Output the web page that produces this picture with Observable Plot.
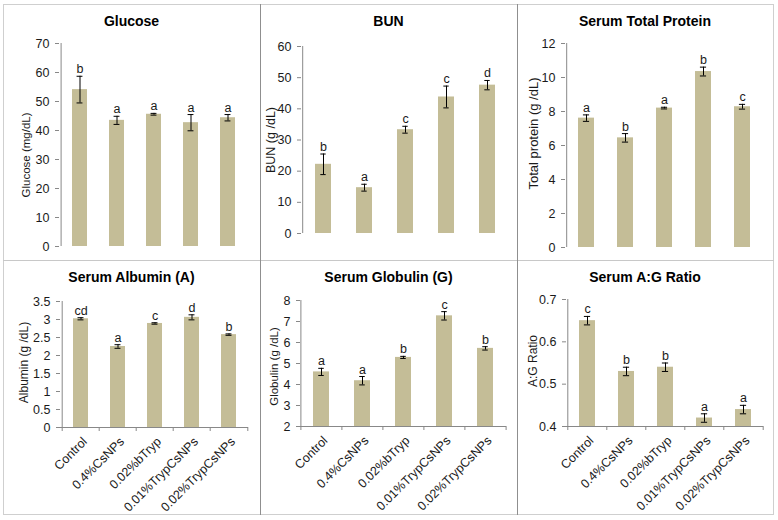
<!DOCTYPE html>
<html><head><meta charset="utf-8">
<script src="https://cdn.jsdelivr.net/npm/d3@7"></script>
<script src="https://cdn.jsdelivr.net/npm/@observablehq/plot@0.6"></script>
<style>
body{margin:0;background:#fff;font-family:"Liberation Sans",Arial,sans-serif;}
#wrap{position:relative;width:778px;height:520px;overflow:hidden;}
.panel{position:absolute;}
.title{position:absolute;left:0;right:0;top:9px;line-height:16px;text-align:center;font-weight:bold;font-size:14px;color:#000;z-index:2;}
</style></head><body>
<div id="wrap"></div>
<script>
const categories = ["Control","0.4%CsNPs","0.02%bTryp","0.01%TrypCsNPs","0.02%TrypCsNPs"];

const glucoseMean = [54.1, 43.5, 45.6, 42.7, 44.4];
const glucoseErr = [4.6, 1.4, 0.3, 2.8, 1.1];
const glucoseLetters = ["b","a","a","a","a"];

const bunMean = [22.2, 14.7, 33.3, 43.8, 47.6];
const bunErr = [3.3, 1.1, 1.1, 3.5, 1.5];
const bunLetters = ["b","a","c","c","d"];

const proteinMean = [7.61, 6.45, 8.2, 10.35, 8.28];
const proteinErr = [0.19, 0.25, 0.05, 0.26, 0.14];
const proteinLetters = ["a","b","a","b","c"];

const albuminMean = [3.02, 2.25, 2.89, 3.06, 2.58];
const albuminErr = [0.03, 0.05, 0.02, 0.07, 0.02];
const albuminLetters = ["cd","a","c","d","b"];

const globulinMean = [4.6, 4.18, 5.29, 7.27, 5.72];
const globulinErr = [0.17, 0.2, 0.05, 0.2, 0.08];
const globulinLetters = ["a","a","b","c","b"];

const ratioMean = [0.65, 0.53, 0.54, 0.42, 0.44];
const ratioErr = [0.01, 0.01, 0.01, 0.01, 0.01];
const ratioLetters = ["c","b","b","a","a"];

const glucoseTicks = [0,10,20,30,40,50,60,70];
const bunTicks = [0,10,20,30,40,50,60];
const proteinTicks = [0,2,4,6,8,10,12];
const albuminTicks = [0,0.5,1,1.5,2,2.5,3,3.5];
const globulinTicks = [2,3,4,5,6,7,8];
const ratioTicks = [0.4,0.5,0.6,0.7];

const panels = [
  {title:"Glucose", ylabel:"Glucose (mg/dL)", mean:glucoseMean, err:glucoseErr, letters:glucoseLetters, ticks:glucoseTicks,
   left:3, top:4, width:257, height:256, ml:56, mr:12, mt:39, mb:14, xaxis:false, ldx:-33, ldy:10, lfs:11.5},
  {title:"BUN", ylabel:"BUN (g /dL)", mean:bunMean, err:bunErr, letters:bunLetters, ticks:bunTicks,
   left:260, top:4, width:257, height:256, ml:41, mr:8, mt:42, mb:27, xaxis:false, ldx:-31, ldy:0, lfs:12.5},
  {title:"Serum Total Protein", ylabel:"Total protein (g /dL)", mean:proteinMean, err:proteinErr, letters:proteinLetters, ticks:proteinTicks,
   left:517, top:4, width:256, height:256, ml:48, mr:10, mt:39, mb:13, xaxis:false, ldx:-32, ldy:-12, lfs:13},
  {title:"Serum Albumin (A)", ylabel:"Albumin (g /dL)", mean:albuminMean, err:albuminErr, letters:albuminLetters, ticks:albuminTicks,
   left:3, top:260, width:257, height:254, ml:57, mr:12, mt:41, mb:87, xaxis:true, ldx:-36, ldy:-2, lfs:12},
  {title:"Serum Globulin (G)", ylabel:"Globulin (g /dL)", mean:globulinMean, err:globulinErr, letters:globulinLetters, ticks:globulinTicks,
   left:260, top:260, width:257, height:254, ml:40, mr:11, mt:40, mb:88, xaxis:true, ldx:-26, ldy:3, lfs:11.5},
  {title:"Serum A:G Ratio", ylabel:"A:G Ratio", mean:ratioMean, err:ratioErr, letters:ratioLetters, ticks:ratioTicks,
   left:517, top:260, width:256, height:254, ml:49, mr:10, mt:39, mb:88, xaxis:true, ldx:-33, ldy:-2, lfs:12}
];

const BAR = "#c4bd97", AXIS = "#888888", TEXT = "#1a1a1a";
const wrap = document.getElementById("wrap");

for (const cfg of panels) {
  const data = categories.map((c, i) => ({c, v: cfg.mean[i], e: cfg.err[i], l: cfg.letters[i]}));
  const y0 = cfg.ticks[0], y1 = cfg.ticks[cfg.ticks.length - 1];
  const plotW = cfg.width - cfg.ml - cfg.mr;
  const plotH = cfg.height - cfg.mt - cfg.mb;
  const step = plotW / categories.length;
  const bw = step * 0.4;
  const capInset = (bw - 6) / 2;
  const marks = [
    Plot.barY(data, {x: "c", y1: () => y0, y2: "v", fill: BAR}),
    Plot.ruleX(data, {x: "c", y1: d => d.v - d.e, y2: d => d.v + d.e, stroke: "#000", strokeWidth: 1}),
    Plot.tickY(data, {x: "c", y: d => d.v + d.e, stroke: "#000", insetLeft: capInset, insetRight: capInset}),
    Plot.tickY(data, {x: "c", y: d => d.v - d.e, stroke: "#000", insetLeft: capInset, insetRight: capInset}),
    Plot.text(data, {x: "c", y: d => d.v + d.e, text: "l", lineAnchor: "bottom", dy: -3, fontSize: 12.5, fill: TEXT}),
    // y axis line
    Plot.ruleX([categories[0]], {x: d => d, dx: -step / 2, stroke: AXIS}),
    // y ticks
    Plot.ruleY(cfg.ticks, {y: d => d, stroke: AXIS, insetLeft: -4, insetRight: plotW}),
    // y label
    Plot.text([cfg.ylabel], {text: d => d, frameAnchor: "left", textAnchor: "middle", lineAnchor: "middle",
      rotate: -90, dx: cfg.ldx, dy: cfg.ldy, fontSize: cfg.lfs, fill: TEXT})
  ];
  if (cfg.xaxis) {
    marks.push(Plot.ruleY([y0], {y: d => d, stroke: AXIS}));
    marks.push(Plot.ruleX(categories, {x: d => d, dx: -step / 2, stroke: AXIS, insetTop: plotH, insetBottom: -4}));
    marks.push(Plot.ruleX([categories[categories.length - 1]], {x: d => d, dx: step / 2, stroke: AXIS, insetTop: plotH, insetBottom: -4}));
    marks.push(Plot.text(categories, {x: d => d, frameAnchor: "bottom", text: d => d, rotate: -45,
      textAnchor: "end", lineAnchor: "middle", dx: 4, dy: 12, fontSize: 12.5, fill: TEXT}));
  }
  const chart = Plot.plot({
    width: cfg.width, height: cfg.height,
    marginLeft: cfg.ml, marginRight: cfg.mr, marginTop: cfg.mt, marginBottom: cfg.mb,
    style: {fontFamily: "Liberation Sans, Arial, sans-serif", fontSize: "12.5px", color: TEXT, background: "transparent", overflow: "visible"},
    x: {domain: categories, paddingInner: 0.6, paddingOuter: 0.3, axis: null},
    y: {domain: [y0, y1], ticks: cfg.ticks, tickFormat: d => String(d), tickSize: 0, tickPadding: 10, label: null},
    marks
  });
  const div = document.createElement("div");
  div.className = "panel";
  div.style.left = cfg.left + "px";
  div.style.top = cfg.top + "px";
  div.style.width = cfg.width + "px";
  div.style.height = cfg.height + "px";
  const t = document.createElement("div");
  t.className = "title";
  t.textContent = cfg.title;
  div.appendChild(t);
  div.appendChild(chart);
  wrap.appendChild(div);
}

// panel frame lines
function line(l, t, w, h, color) {
  const d = document.createElement("div");
  d.style.cssText = `position:absolute;left:${l}px;top:${t}px;width:${w}px;height:${h}px;background:${color};`;
  wrap.appendChild(d);
}
line(3, 4, 771, 1, "#cfcfcf");
line(3, 514, 771, 1, "#cfcfcf");
line(3, 4, 1, 511, "#cfcfcf");
line(773, 4, 1, 511, "#cfcfcf");
line(3, 260, 771, 1, "#c8c8c8");
line(260, 4, 1, 511, "#8f8f8f");
line(517, 4, 1, 511, "#8f8f8f");
</script>
</body></html>
